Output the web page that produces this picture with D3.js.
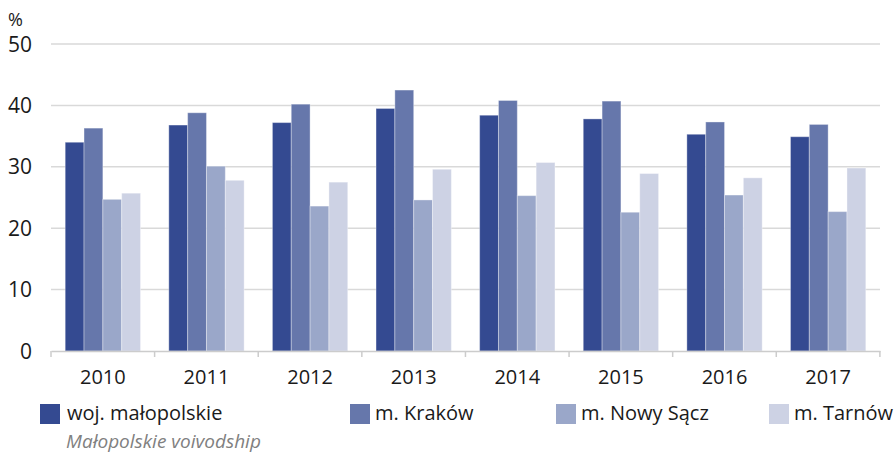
<!DOCTYPE html>
<html>
<head>
<meta charset="utf-8">
<script src="https://cdn.jsdelivr.net/npm/d3@7"></script>
<style>
  body { margin: 0; background: #fff; }
  svg text { font-family: 'Open Sans', sans-serif; fill: #1a1a1a; }
</style>
</head>
<body>
<div class="chart"></div>
<script>
const years = ['2010', '2011', '2012', '2013', '2014', '2015', '2016', '2017'];
const seriesNames = ['woj. małopolskie', 'm. Kraków', 'm. Nowy Sącz', 'm. Tarnów'];
const malopolskie = [34.0, 36.8, 37.2, 39.5, 38.4, 37.8, 35.3, 34.9];
const krakow = [36.3, 38.8, 40.2, 42.5, 40.8, 40.7, 37.3, 36.9];
const nowySacz = [24.7, 30.1, 23.6, 24.6, 25.3, 22.6, 25.4, 22.7];
const tarnow = [25.7, 27.8, 27.5, 29.6, 30.7, 28.9, 28.2, 29.8];
const yTicks = [0, 10, 20, 30, 40, 50];
const colors = ['#344a91', '#6677ab', '#9aa7c9', '#cdd2e4'];

const series = [malopolskie, krakow, nowySacz, tarnow];
const data = years.map((yr, i) => ({ year: yr, values: series.map(s => s[i]) }));

const margin = { top: 44, right: 16, bottom: 103, left: 51 },
    width = 896 - margin.left - margin.right,
    height = 454 - margin.top - margin.bottom;

const svg = d3.select('.chart')
    .append('svg')
    .attr('width', 896)
    .attr('height', 454)
    .append('g')
    .attr('transform', `translate(${margin.left},${margin.top})`);

const x0 = d3.scaleBand()
    .domain(years)
    .range([0, width])
    .paddingInner(0.273)
    .paddingOuter(0.137);

const x1 = d3.scaleBand()
    .domain(d3.range(seriesNames.length))
    .range([0, x0.bandwidth()]);

const y = d3.scaleLinear()
    .domain([0, 50])
    .range([height, 0]);

// gridlines
svg.append('g')
    .selectAll('line')
    .data(yTicks.filter(t => t > 0))
    .join('line')
    .attr('x1', 0)
    .attr('x2', width)
    .attr('y1', d => y(d))
    .attr('y2', d => y(d))
    .attr('stroke', '#d9d9d9')
    .attr('stroke-width', 1.5);

// y labels
svg.append('g')
    .selectAll('text')
    .data(yTicks)
    .join('text')
    .attr('x', -19)
    .attr('y', d => y(d))
    .attr('dy', '0.36em')
    .attr('text-anchor', 'end')
    .style('font-size', '21px')
    .text(d => d);

svg.append('text')
    .attr('x', -43)
    .attr('y', -18)
    .style('font-size', '18px')
    .text('%');

// bars
svg.append('g')
    .selectAll('g')
    .data(data)
    .join('g')
    .attr('transform', d => `translate(${x0(d.year)},0)`)
    .selectAll('rect')
    .data(d => d.values)
    .join('rect')
    .attr('x', (d, i) => x1(i))
    .attr('y', d => y(d))
    .attr('width', x1.bandwidth())
    .attr('height', d => height - y(d))
    .attr('fill', (d, i) => colors[i])
    .attr('stroke', 'rgba(255,255,255,0.35)')
    .attr('stroke-width', 1);

// x axis
const xAxis = svg.append('g')
    .attr('transform', `translate(0,${height})`)
    .call(d3.axisBottom(x0).tickSize(0).tickPadding(19));

xAxis.select('.domain')
    .attr('stroke', '#cccccc')
    .attr('stroke-width', 1.5);

xAxis.selectAll('text')
    .style('font-size', '20px')
    .style('font-family', "'Open Sans', sans-serif")
    .attr('fill', '#1a1a1a');

const step = x0.step();
svg.append('g')
    .selectAll('line')
    .data(d3.range(years.length + 1))
    .join('line')
    .attr('x1', i => i * step)
    .attr('x2', i => i * step)
    .attr('y1', height)
    .attr('y2', height + 6)
    .attr('stroke', '#cccccc')
    .attr('stroke-width', 1.5);

// legend
const legendX = [40, 350, 556, 769];
const legend = svg.append('g')
    .attr('transform', `translate(${-margin.left},0)`);

const items = legend.selectAll('g')
    .data(seriesNames)
    .join('g')
    .attr('transform', (d, i) => `translate(${legendX[i]},${404 - margin.top})`);

items.append('rect')
    .attr('width', 20)
    .attr('height', 20)
    .attr('fill', (d, i) => colors[i]);

items.append('text')
    .attr('x', (d, i) => i === 0 ? 27 : 25)
    .attr('y', 16)
    .style('font-size', '20px')
    .text(d => d);

legend.append('text')
    .attr('x', 66)
    .attr('y', 448 - margin.top)
    .style('font-size', '19px')
    .style('font-style', 'italic')
    .style('fill', '#808080')
    .text('Małopolskie voivodship');
</script>
</body>
</html>
